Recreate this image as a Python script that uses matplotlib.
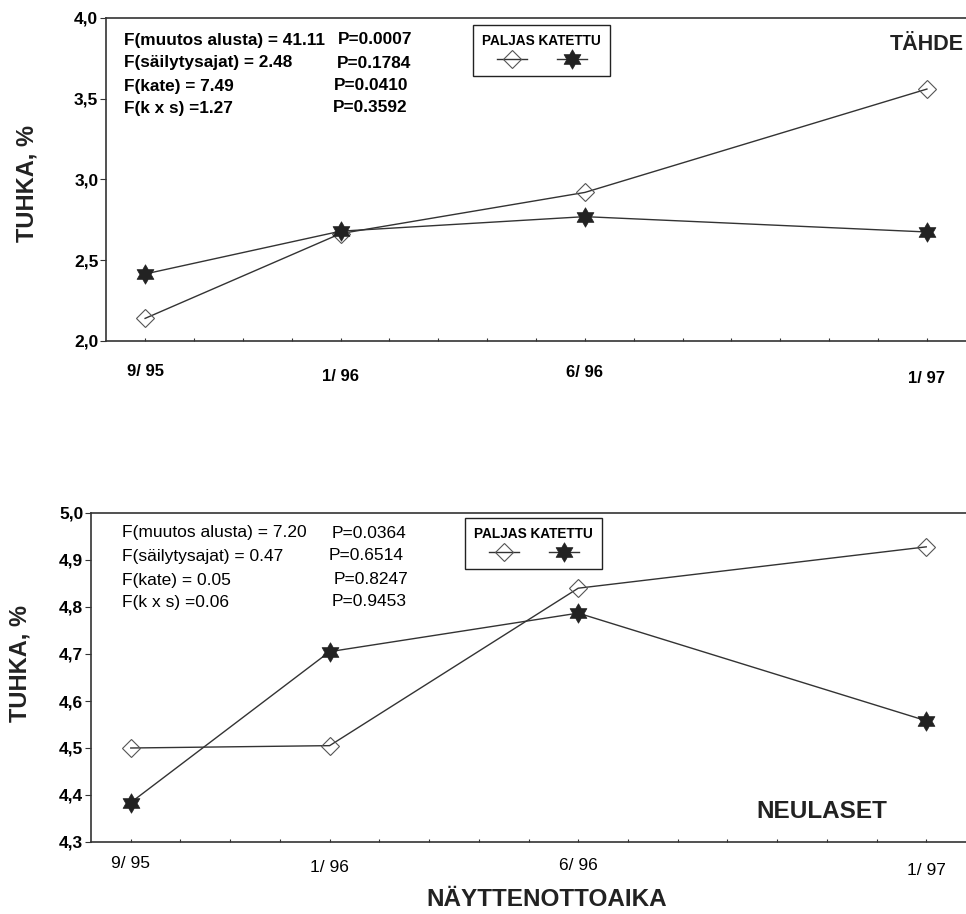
import numpy as np
import matplotlib
matplotlib.use("Agg")
import matplotlib.pyplot as plt
from matplotlib.path import Path
from matplotlib.lines import Line2D

plt.rcParams["font.family"] = ["Liberation Sans", "DejaVu Sans"]

# sampling months counted from 9/95
months = [0, 4, 9, 16]
month_labels = ["9/ 95", "1/ 96", "6/ 96", "1/ 97"]

# ash content, %
tahde_paljas = [2.14, 2.665, 2.92, 3.56]
tahde_katettu = [2.415, 2.68, 2.77, 2.675]
neulaset_paljas = [4.50, 4.505, 4.84, 4.928]
neulaset_katettu = [4.384, 4.705, 4.787, 4.558]

# analysis of variance results
tahde_f = ["F(muutos alusta) = 41.11", "F(säilytysajat) = 2.48",
           "F(kate) = 7.49", "F(k x s) =1.27"]
tahde_p = ["P=0.0007", "P=0.1784", "P=0.0410", "P=0.3592"]
neulaset_f = ["F(muutos alusta) = 7.20", "F(säilytysajat) = 0.47",
              "F(kate) = 0.05", "F(k x s) =0.06"]
neulaset_p = ["P=0.0364", "P=0.6514", "P=0.8247", "P=0.9453"]

W, H = 966, 914
fig = plt.figure(figsize=(W / 100, H / 100), dpi=100)


def px(x, y):
    return x / W, 1 - y / H


# six-pointed star marker
ang_out = np.deg2rad(90 + 60 * np.arange(6))
ang_in = ang_out + np.deg2rad(30)
r_in = 1 / np.sqrt(3)
pts = []
for ao, ai in zip(ang_out, ang_in):
    pts.append((np.cos(ao), np.sin(ao)))
    pts.append((r_in * np.cos(ai), r_in * np.sin(ai)))
pts.append(pts[0])
star = Path(pts, [Path.MOVETO] + [Path.LINETO] * 11 + [Path.CLOSEPOLY])

line_kw = dict(color="#333333", lw=1.0)
paljas_kw = dict(marker="D", ms=9.5, mfc="none", mec="#555555", mew=0.8)
katettu_kw = dict(marker=star, ms=14, mfc="#222222", mec="#222222", mew=0.5)


def panel(rect, paljas, katettu, ylim, yticks, bold, pads, fsize):
    ax = fig.add_axes(rect)
    ax.plot(months, paljas, **line_kw, **paljas_kw)
    ax.plot(months, katettu, **line_kw, **katettu_kw)
    ax.set_xlim(-0.8, 16.8)
    ax.set_ylim(*ylim)
    weight = "bold" if bold else "normal"
    ax.set_yticks(yticks)
    ax.set_yticklabels([f"{v:.1f}".replace(".", ",") for v in yticks],
                       fontsize=12.5, fontweight="bold")
    ax.set_xticks(range(17))
    labels = [""] * 17
    for m, lab in zip(months, month_labels):
        labels[m] = lab
    ax.set_xticklabels(labels, fontsize=fsize, fontweight=weight)
    ax.tick_params(axis="y", direction="out", length=4.5, width=0.8,
                   pad=1, color="#333333")
    ax.tick_params(axis="x", direction="in", length=2.5, width=0.8,
                   color="#333333")
    ticks = ax.xaxis.get_major_ticks()
    for m, p in zip(months, pads):
        ticks[m].set_pad(p)
    ax.spines["right"].set_visible(False)
    for s in ["left", "bottom", "top"]:
        ax.spines[s].set_color("#333333")
        ax.spines[s].set_linewidth(1.2)
    return ax


ax1 = panel([106 / W, 1 - 341 / H, 860 / W, 323 / H],
            tahde_paljas, tahde_katettu, (2.0, 4.0),
            [2.0, 2.5, 3.0, 3.5, 4.0], True, [16.6, 20.2, 17.3, 21.6], 12)
ax2 = panel([91 / W, 1 - 842 / H, 875 / W, 329 / H],
            neulaset_paljas, neulaset_katettu, (4.3, 5.0),
            [4.3, 4.4, 4.5, 4.6, 4.7, 4.8, 4.9, 5.0], False,
            [10.1, 13.0, 11.5, 15.1], 12.5)

# y axis titles
for x, y in [(27, 183), (20, 664)]:
    fig.text(*px(x, y), "TUHKA, %", fontsize=17, fontweight="bold",
             rotation=90, ha="center", va="center", color="#222222")

# legends
handles = [Line2D([], [], **line_kw, **paljas_kw),
           Line2D([], [], **line_kw, **katettu_kw)]
for ax, anchor in [(ax1, (0.4267, 0.978)), (ax2, (0.4274, 0.985))]:
    leg = ax.legend(handles, ["", ""], ncol=2, title="PALJAS KATETTU",
                    loc="upper left", bbox_to_anchor=anchor, borderaxespad=0,
                    fancybox=False, framealpha=1, edgecolor="#222222",
                    fontsize=9, handlelength=2.4, handletextpad=0,
                    columnspacing=2.4, borderpad=0.75,
                    title_fontproperties={"weight": "bold", "size": 9.8})
    leg.get_frame().set_linewidth(1.0)

# statistics text
rows1 = [40, 63, 86, 108]
p1_x = [338, 337, 334, 333]
for y, f, p, xp in zip(rows1, tahde_f, tahde_p, p1_x):
    fig.text(*px(124, y), f, fontsize=12.4, fontweight="bold", va="center")
    fig.text(*px(xp, y), p, fontsize=12.4, fontweight="bold", va="center")

rows2 = [533, 556, 580, 602]
p2_x = [332, 329, 334, 332]
for y, f, p, xp in zip(rows2, neulaset_f, neulaset_p, p2_x):
    fig.text(*px(122, y), f, fontsize=12.5, va="center")
    fig.text(*px(xp, y), p, fontsize=12.5, va="center")

fig.text(*px(964, 45), "TÄHDE", fontsize=15.5, fontweight="bold",
         ha="right", va="center", color="#222222")
fig.text(*px(822, 811), "NEULASET", fontsize=17.5, fontweight="bold",
         ha="center", va="center", color="#222222")
fig.text(*px(547, 900), "NÄYTTENOTTOAIKA", fontsize=17.5, fontweight="bold",
         ha="center", va="center", color="#222222")

fig.savefig("out.png", dpi=100)
